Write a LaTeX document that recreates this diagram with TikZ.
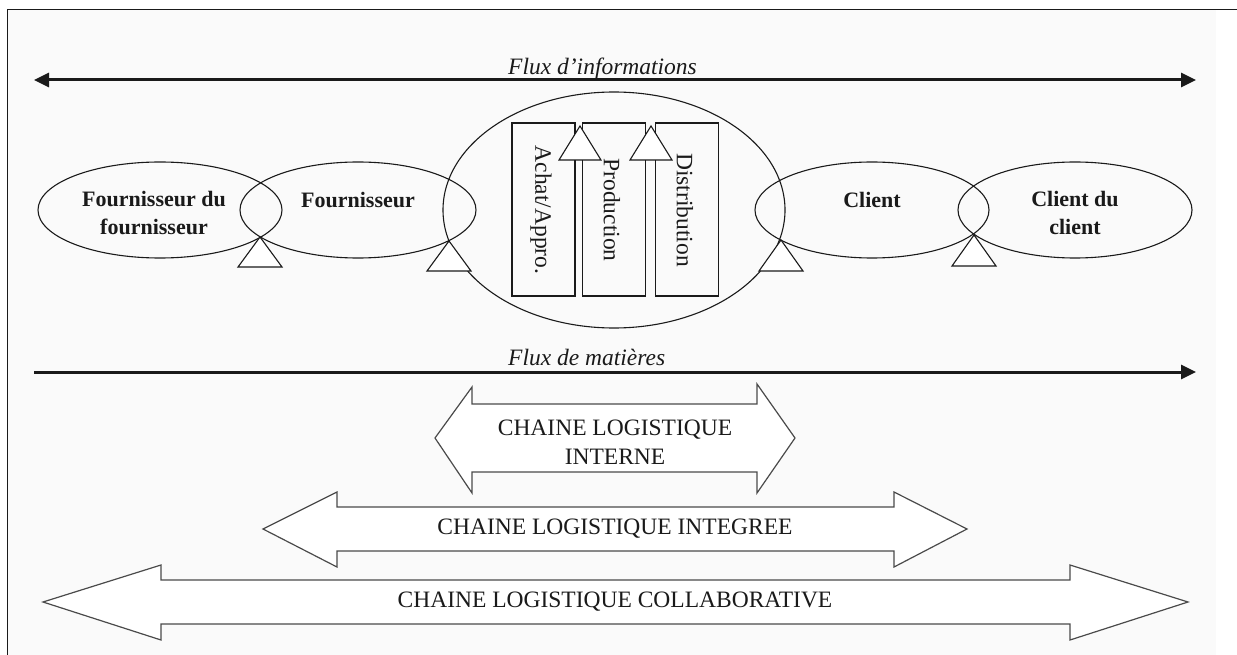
\documentclass[tikz,border=0pt]{standalone}
\usepackage{fontspec}
\setmainfont{Liberation Serif}
\usetikzlibrary{arrows.meta,shapes.geometric}
\definecolor{paper}{HTML}{FAFAFA}
\definecolor{ink}{HTML}{1A1A1A}
\definecolor{blockline}{HTML}{4A4A4A}
\begin{document}
\begin{tikzpicture}[x=1pt,y=-1pt,
  txt/.style={font=\fontsize{23.5}{29}\selectfont, text=ink, align=center, inner sep=0pt},
  actor/.style={txt, font=\fontsize{22}{28}\selectfont\bfseries},
  lane/.style={draw=ink, line width=1.1pt, ellipse, inner sep=0pt},
  dept/.style={draw=ink, line width=1.1pt, rectangle, inner sep=0pt, minimum width=63pt, minimum height=173pt},
  link/.style={draw=ink, fill=white, line width=1.1pt, line join=miter},
  flux/.style={draw=ink, line width=3pt},
  fluxlabel/.style={font=\fontsize{23.5}{29}\selectfont\itshape, text=ink, inner sep=0pt, anchor=base west},
  block/.style={draw=blockline, line width=1.2pt, fill=white, line join=miter},
]
\useasboundingbox (0,0) rectangle (1237,655);
\fill[paper] (7,10) rectangle (1216,655);
% frame
\draw[ink, line width=1pt] (7,655) -- (7,10) -- (1237,10);

% information flow (both directions)
\coordinate (infoL) at (34,80);
\coordinate (infoR) at (1196,80);
\draw[flux, {Triangle[length=15pt,width=14pt]}-{Triangle[length=15pt,width=14pt]}] (infoL) -- (infoR);
\node[fluxlabel] (infoT) at (508,75) {Flux d'informations};

% actors of the chain
\node[lane, minimum width=244pt, minimum height=96pt] (E1) at (160,210) {};
\node[lane, minimum width=236pt, minimum height=96pt] (E2) at (358,210) {};
\node[lane, minimum width=342pt, minimum height=236pt] (B) at (614,210) {};
\node[lane, minimum width=234pt, minimum height=96pt] (E3) at (872,210) {};
\node[lane, minimum width=234pt, minimum height=96pt] (E4) at (1075,210) {};

\node[actor] (t1) at (154,213) {Fournisseur du\\fournisseur};
\node[actor] (t2) at (358,200) {Fournisseur};
\node[actor] (t3) at (872,200) {Client};
\node[actor] (t4) at (1075,213) {Client du\\client};

% departments of the company
\node[dept] (R1) at (543.5,209.5) {};
\node[dept] (R2) at (614,209.5) {};
\node[dept] (R3) at (687,209.5) {};
\node[txt, rotate=-90] (r1t) at (541,210) {Achat/Appro.};
\node[txt, rotate=-90] (r2t) at (612,210) {Production};
\node[txt, rotate=-90] (r3t) at (685,210) {Distribution};

% links between departments
\path[link] (580,126) -- (601,160) -- (559,160) -- cycle;
\path[link] (651,126) -- (672,160) -- (630,160) -- cycle;

% links between actors
\path[link] (260,237) -- (282,267) -- (238,267) -- cycle;
\path[link] (449,241) -- (471,271) -- (427,271) -- cycle;
\path[link] (781,240) -- (803,271) -- (759,271) -- cycle;
\path[link] (974,235) -- (996,266) -- (952,266) -- cycle;

% material flow
\coordinate (matL) at (34,372);
\coordinate (matR) at (1196,372);
\draw[flux, -{Triangle[length=15pt,width=14pt]}] (matL) -- (matR);
\node[fluxlabel] (matT) at (508,365) {Flux de matières};

% scope of the supply chain
\path[block] (435,438) -- (472,387) -- (472,404) -- (757,404) -- (757,384) -- (795,438)
  -- (757,493) -- (757,472) -- (472,472) -- (472,493) -- cycle;
\node[txt] (c1) at (615,442) {CHAINE LOGISTIQUE\\INTERNE};

\path[block] (263,529) -- (337,492) -- (337,507) -- (894,507) -- (894,492) -- (967,529)
  -- (894,567) -- (894,551) -- (337,551) -- (337,567) -- cycle;
\node[txt] (c2) at (615,529) {CHAINE LOGISTIQUE INTEGREE};

\path[block] (43,602) -- (161,565) -- (161,580) -- (1070,580) -- (1070,565) -- (1188,602)
  -- (1070,640) -- (1070,624) -- (161,624) -- (161,640) -- cycle;
\node[txt] (c3) at (615,602) {CHAINE LOGISTIQUE COLLABORATIVE};
\end{tikzpicture}
\end{document}
